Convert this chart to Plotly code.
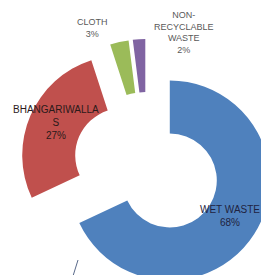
import plotly.graph_objects as go

categories = ["WET WASTE", "BHANGARIWALLAS", "CLOTH", "NON-RECYCLABLE WASTE"]
values = [68, 27, 3, 2]
label_text = ["WET WASTE", "BHANGARIWALLA<br>S", "CLOTH", "NON-<br>RECYCLABLE<br>WASTE"]
colors = ["#4F81BD", "#C0504D", "#9BBB59", "#8064A2"]

W, H = 280, 300
total = sum(values)
pct = [f"{round(100 * v / total)}%" for v in values]

fig = go.Figure(go.Pie(
    labels=categories,
    values=values,
    sort=False,
    direction="clockwise",
    rotation=0,
    hole=0.47,
    pull=[0.27] * len(values),
    marker=dict(colors=colors, line=dict(width=0)),
    textinfo="none",
    hoverinfo="label+percent",
    showlegend=False,
    domain=dict(x=[20 / W, 274 / W], y=[1 - 293 / H, 1 - 39 / H]),
))

# label placement (pixel centres in the figure), text from the data arrays
label_pos = [(230, 216, 10, "#1f2340"), (56, 122, 10, "#2a1a1a"),
             (92, 28, 9, "#595959"), (184, 33, 9, "#595959")]
for txt, p, (x, y, s, c) in zip(label_text, pct, label_pos):
    fig.add_annotation(
        x=x / W, y=1 - y / H, xref="paper", yref="paper",
        text=f"{txt}<br>{p}", showarrow=False,
        font=dict(family="Liberation Sans, Arial, sans-serif", size=s, color=c),
        align="center", xanchor="center", yanchor="middle",
    )

fig.add_shape(type="line", xref="paper", yref="paper",
              x0=73 / W, y0=1 - 276 / H, x1=78 / W, y1=1 - 260 / H,
              line=dict(color="#5a6a8a", width=1))

fig.update_layout(
    width=W, height=H,
    margin=dict(l=0, r=0, t=0, b=0, autoexpand=False),
    paper_bgcolor="white",
    plot_bgcolor="white",
)

fig.write_html(
    "out.html",
    config={"displayModeBar": False},
    post_script="document.body.style.margin='0';document.body.style.overflow='hidden';",
)
